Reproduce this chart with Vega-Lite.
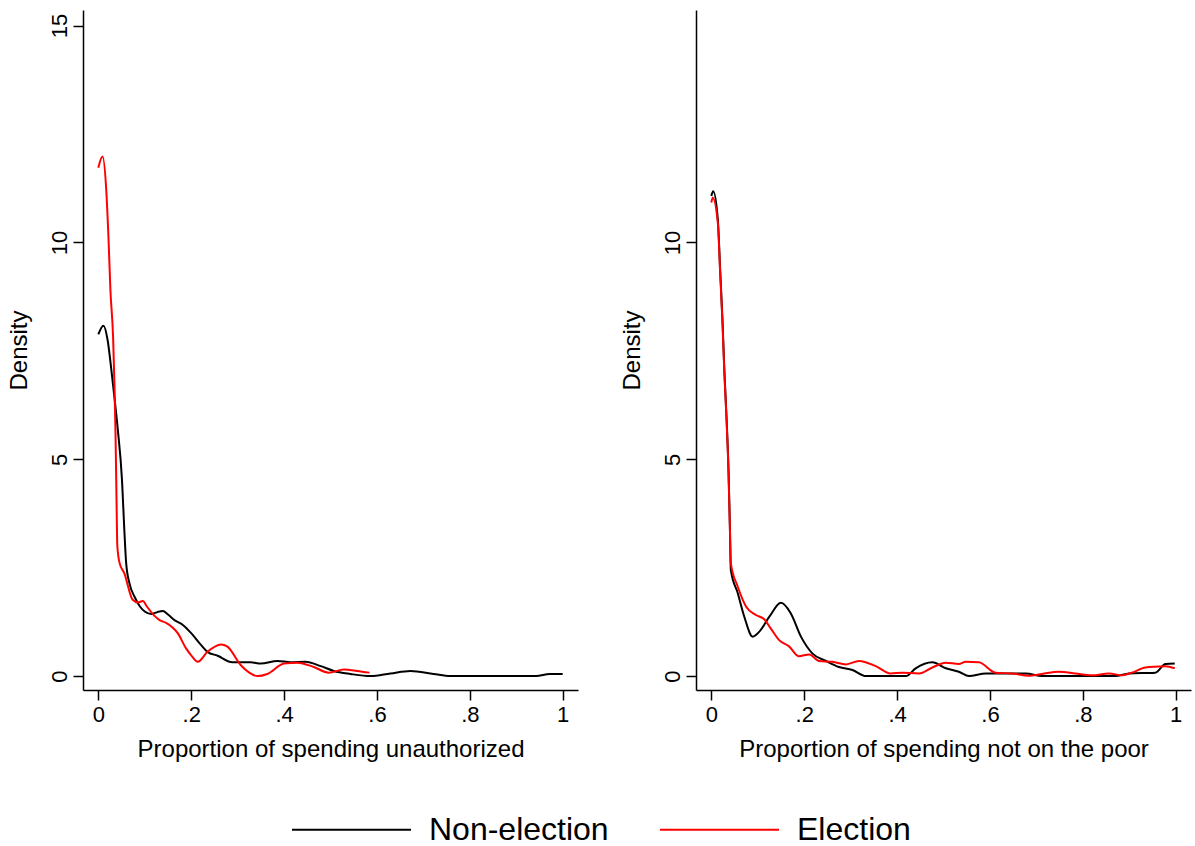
{
  "$schema": "https://vega.github.io/schema/vega-lite/v6.json",
  "background": "white",
  "padding": {"left": 7, "top": 10, "right": 3, "bottom": 0},
  "config": {
    "font": "Liberation Sans",
    "view": {"stroke": null},
    "concat": {"spacing": 42},
    "axis": {
      "grid": false,
      "domainColor": "#000000",
      "domainWidth": 1.5,
      "tickColor": "#000000",
      "tickWidth": 1.5,
      "tickSize": 10,
      "labelFontSize": 22,
      "labelColor": "#000000",
      "titleFontSize": 24,
      "titleFontWeight": "normal",
      "titleColor": "#000000"
    },
    "legend": {
      "orient": "none",
      "legendX": 208,
      "legendY": 759,
      "direction": "horizontal",
      "title": null,
      "padding": 0,
      "symbolType": "stroke",
      "symbolSize": 14161,
      "symbolStrokeWidth": 2,
      "labelFontSize": 32,
      "labelLimit": 0,
      "labelColor": "#000000",
      "labelOffset": 17,
      "columnPadding": 47
    }
  },
  "datasets": {
    "left": [
      {"group": "Non-election", "x": 0, "y": 7.88},
      {"group": "Non-election", "x": 0.011, "y": 8.08},
      {"group": "Non-election", "x": 0.02, "y": 7.75},
      {"group": "Non-election", "x": 0.028, "y": 7.07},
      {"group": "Non-election", "x": 0.036, "y": 6.3},
      {"group": "Non-election", "x": 0.042, "y": 5.68},
      {"group": "Non-election", "x": 0.051, "y": 4.52},
      {"group": "Non-election", "x": 0.056, "y": 3.37},
      {"group": "Non-election", "x": 0.06, "y": 2.6},
      {"group": "Non-election", "x": 0.067, "y": 2.14},
      {"group": "Non-election", "x": 0.078, "y": 1.83},
      {"group": "Non-election", "x": 0.09, "y": 1.6},
      {"group": "Non-election", "x": 0.1, "y": 1.49},
      {"group": "Non-election", "x": 0.114, "y": 1.43},
      {"group": "Non-election", "x": 0.128, "y": 1.48},
      {"group": "Non-election", "x": 0.139, "y": 1.5},
      {"group": "Non-election", "x": 0.15, "y": 1.42},
      {"group": "Non-election", "x": 0.164, "y": 1.29},
      {"group": "Non-election", "x": 0.182, "y": 1.18},
      {"group": "Non-election", "x": 0.2, "y": 0.99},
      {"group": "Non-election", "x": 0.221, "y": 0.72},
      {"group": "Non-election", "x": 0.235, "y": 0.56},
      {"group": "Non-election", "x": 0.257, "y": 0.47},
      {"group": "Non-election", "x": 0.289, "y": 0.32},
      {"group": "Non-election", "x": 0.328, "y": 0.32},
      {"group": "Non-election", "x": 0.35, "y": 0.29},
      {"group": "Non-election", "x": 0.386, "y": 0.35},
      {"group": "Non-election", "x": 0.414, "y": 0.32},
      {"group": "Non-election", "x": 0.446, "y": 0.33},
      {"group": "Non-election", "x": 0.479, "y": 0.23},
      {"group": "Non-election", "x": 0.507, "y": 0.12},
      {"group": "Non-election", "x": 0.543, "y": 0.05},
      {"group": "Non-election", "x": 0.586, "y": 0.0},
      {"group": "Non-election", "x": 0.629, "y": 0.06},
      {"group": "Non-election", "x": 0.672, "y": 0.12},
      {"group": "Non-election", "x": 0.722, "y": 0.05},
      {"group": "Non-election", "x": 0.758, "y": 0.0},
      {"group": "Non-election", "x": 0.85, "y": 0.0},
      {"group": "Non-election", "x": 0.943, "y": 0.0},
      {"group": "Non-election", "x": 0.972, "y": 0.05},
      {"group": "Non-election", "x": 1.0, "y": 0.05},
      {"group": "Election", "x": 0, "y": 11.72},
      {"group": "Election", "x": 0.009, "y": 11.98},
      {"group": "Election", "x": 0.017, "y": 11.22},
      {"group": "Election", "x": 0.022, "y": 10.07},
      {"group": "Election", "x": 0.026, "y": 8.91},
      {"group": "Election", "x": 0.032, "y": 7.76},
      {"group": "Election", "x": 0.035, "y": 6.6},
      {"group": "Election", "x": 0.037, "y": 5.6},
      {"group": "Election", "x": 0.039, "y": 4.2},
      {"group": "Election", "x": 0.041, "y": 2.99},
      {"group": "Election", "x": 0.046, "y": 2.6},
      {"group": "Election", "x": 0.056, "y": 2.37},
      {"group": "Election", "x": 0.074, "y": 1.76},
      {"group": "Election", "x": 0.085, "y": 1.7},
      {"group": "Election", "x": 0.096, "y": 1.73},
      {"group": "Election", "x": 0.105, "y": 1.6},
      {"group": "Election", "x": 0.12, "y": 1.4},
      {"group": "Election", "x": 0.132, "y": 1.29},
      {"group": "Election", "x": 0.146, "y": 1.23},
      {"group": "Election", "x": 0.171, "y": 0.99},
      {"group": "Election", "x": 0.189, "y": 0.64},
      {"group": "Election", "x": 0.2, "y": 0.48},
      {"group": "Election", "x": 0.214, "y": 0.33},
      {"group": "Election", "x": 0.235, "y": 0.56},
      {"group": "Election", "x": 0.264, "y": 0.73},
      {"group": "Election", "x": 0.278, "y": 0.68},
      {"group": "Election", "x": 0.307, "y": 0.25},
      {"group": "Election", "x": 0.325, "y": 0.08},
      {"group": "Election", "x": 0.343, "y": 0.0},
      {"group": "Election", "x": 0.364, "y": 0.05},
      {"group": "Election", "x": 0.4, "y": 0.29},
      {"group": "Election", "x": 0.429, "y": 0.31},
      {"group": "Election", "x": 0.464, "y": 0.21},
      {"group": "Election", "x": 0.496, "y": 0.08},
      {"group": "Election", "x": 0.529, "y": 0.15},
      {"group": "Election", "x": 0.557, "y": 0.12},
      {"group": "Election", "x": 0.584, "y": 0.08}
    ],
    "right": [
      {"group": "Non-election", "x": 0, "y": 11.07},
      {"group": "Non-election", "x": 0.004, "y": 11.18},
      {"group": "Non-election", "x": 0.014, "y": 10.53},
      {"group": "Non-election", "x": 0.019, "y": 9.38},
      {"group": "Non-election", "x": 0.024, "y": 8.22},
      {"group": "Non-election", "x": 0.028, "y": 7.07},
      {"group": "Non-election", "x": 0.033, "y": 5.91},
      {"group": "Non-election", "x": 0.037, "y": 4.76},
      {"group": "Non-election", "x": 0.04, "y": 3.45},
      {"group": "Non-election", "x": 0.042, "y": 2.45},
      {"group": "Non-election", "x": 0.057, "y": 1.91},
      {"group": "Non-election", "x": 0.071, "y": 1.37},
      {"group": "Non-election", "x": 0.089, "y": 0.91},
      {"group": "Non-election", "x": 0.103, "y": 1.02},
      {"group": "Non-election", "x": 0.125, "y": 1.37},
      {"group": "Non-election", "x": 0.15, "y": 1.69},
      {"group": "Non-election", "x": 0.171, "y": 1.45},
      {"group": "Non-election", "x": 0.193, "y": 0.91},
      {"group": "Non-election", "x": 0.218, "y": 0.52},
      {"group": "Non-election", "x": 0.247, "y": 0.35},
      {"group": "Non-election", "x": 0.275, "y": 0.21},
      {"group": "Non-election", "x": 0.304, "y": 0.14},
      {"group": "Non-election", "x": 0.333, "y": 0.0},
      {"group": "Non-election", "x": 0.419, "y": 0.0},
      {"group": "Non-election", "x": 0.44, "y": 0.18},
      {"group": "Non-election", "x": 0.476, "y": 0.32},
      {"group": "Non-election", "x": 0.505, "y": 0.18},
      {"group": "Non-election", "x": 0.533, "y": 0.1},
      {"group": "Non-election", "x": 0.555, "y": 0.0},
      {"group": "Non-election", "x": 0.591, "y": 0.06},
      {"group": "Non-election", "x": 0.677, "y": 0.06},
      {"group": "Non-election", "x": 0.712, "y": 0.0},
      {"group": "Non-election", "x": 0.87, "y": 0.0},
      {"group": "Non-election", "x": 0.899, "y": 0.06},
      {"group": "Non-election", "x": 0.956, "y": 0.08},
      {"group": "Non-election", "x": 0.978, "y": 0.28},
      {"group": "Non-election", "x": 0.998, "y": 0.29},
      {"group": "Election", "x": 0, "y": 10.92},
      {"group": "Election", "x": 0.003, "y": 11.03},
      {"group": "Election", "x": 0.014, "y": 10.45},
      {"group": "Election", "x": 0.019, "y": 9.3},
      {"group": "Election", "x": 0.024, "y": 8.15},
      {"group": "Election", "x": 0.028, "y": 7.0},
      {"group": "Election", "x": 0.033, "y": 5.85},
      {"group": "Election", "x": 0.037, "y": 4.7},
      {"group": "Election", "x": 0.04, "y": 3.4},
      {"group": "Election", "x": 0.042, "y": 2.6},
      {"group": "Election", "x": 0.057, "y": 2.06},
      {"group": "Election", "x": 0.075, "y": 1.6},
      {"group": "Election", "x": 0.096, "y": 1.41},
      {"group": "Election", "x": 0.114, "y": 1.31},
      {"group": "Election", "x": 0.128, "y": 1.1},
      {"group": "Election", "x": 0.146, "y": 0.83},
      {"group": "Election", "x": 0.168, "y": 0.68},
      {"group": "Election", "x": 0.188, "y": 0.46},
      {"group": "Election", "x": 0.211, "y": 0.5},
      {"group": "Election", "x": 0.232, "y": 0.35},
      {"group": "Election", "x": 0.261, "y": 0.33},
      {"group": "Election", "x": 0.29, "y": 0.27},
      {"group": "Election", "x": 0.318, "y": 0.35},
      {"group": "Election", "x": 0.354, "y": 0.23},
      {"group": "Election", "x": 0.386, "y": 0.06},
      {"group": "Election", "x": 0.411, "y": 0.08},
      {"group": "Election", "x": 0.447, "y": 0.06},
      {"group": "Election", "x": 0.476, "y": 0.2},
      {"group": "Election", "x": 0.505, "y": 0.31},
      {"group": "Election", "x": 0.533, "y": 0.28},
      {"group": "Election", "x": 0.548, "y": 0.33},
      {"group": "Election", "x": 0.576, "y": 0.32},
      {"group": "Election", "x": 0.612, "y": 0.08},
      {"group": "Election", "x": 0.648, "y": 0.06},
      {"group": "Election", "x": 0.684, "y": 0.01},
      {"group": "Election", "x": 0.712, "y": 0.05},
      {"group": "Election", "x": 0.748, "y": 0.1},
      {"group": "Election", "x": 0.784, "y": 0.06},
      {"group": "Election", "x": 0.82, "y": 0.02},
      {"group": "Election", "x": 0.856, "y": 0.06},
      {"group": "Election", "x": 0.885, "y": 0.02},
      {"group": "Election", "x": 0.906, "y": 0.08},
      {"group": "Election", "x": 0.935, "y": 0.2},
      {"group": "Election", "x": 0.963, "y": 0.22},
      {"group": "Election", "x": 0.978, "y": 0.23},
      {"group": "Election", "x": 0.998, "y": 0.18}
    ]
  },
  "hconcat": [
    {
      "data": {"name": "left"},
      "width": 495,
      "height": 680,
      "mark": {"type": "line", "strokeWidth": 2, "interpolate": "monotone"},
      "encoding": {
        "x": {
          "field": "x", "type": "quantitative",
          "scale": {"domain": [-0.033, 1.033], "nice": false, "zero": false},
          "axis": {
            "values": [0, 0.2, 0.4, 0.6, 0.8, 1],
            "labelExpr": "datum.value == 0 ? '0' : datum.value == 1 ? '1' : replace(format(datum.value, '.1f'), '0.', '.')",
            "labelPadding": 4,
            "titlePadding": 12,
            "title": "Proportion of spending unauthorized"
          }
        },
        "y": {
          "field": "y", "type": "quantitative",
          "scale": {"domain": [-0.32, 15.36], "nice": false, "zero": false},
          "axis": {
            "values": [0, 5, 10, 15],
            "labelAngle": -90,
            "labelPadding": 2,
            "titlePadding": 17,
            "title": "Density"
          }
        },
        "color": {
          "field": "group", "type": "nominal",
          "scale": {"domain": ["Non-election", "Election"], "range": ["#000000", "#ff0000"]}
        }
      }
    },
    {
      "data": {"name": "right"},
      "width": 495,
      "height": 680,
      "mark": {"type": "line", "strokeWidth": 2, "interpolate": "monotone"},
      "encoding": {
        "x": {
          "field": "x", "type": "quantitative",
          "scale": {"domain": [-0.033, 1.033], "nice": false, "zero": false},
          "axis": {
            "values": [0, 0.2, 0.4, 0.6, 0.8, 1],
            "labelExpr": "datum.value == 0 ? '0' : datum.value == 1 ? '1' : replace(format(datum.value, '.1f'), '0.', '.')",
            "labelPadding": 4,
            "titlePadding": 12,
            "title": "Proportion of spending not on the poor"
          }
        },
        "y": {
          "field": "y", "type": "quantitative",
          "scale": {"domain": [-0.32, 15.36], "nice": false, "zero": false},
          "axis": {
            "values": [0, 5, 10],
            "labelAngle": -90,
            "labelPadding": 2,
            "titlePadding": 17,
            "title": "Density"
          }
        },
        "color": {
          "field": "group", "type": "nominal",
          "scale": {"domain": ["Non-election", "Election"], "range": ["#000000", "#ff0000"]}
        }
      }
    }
  ]
}
